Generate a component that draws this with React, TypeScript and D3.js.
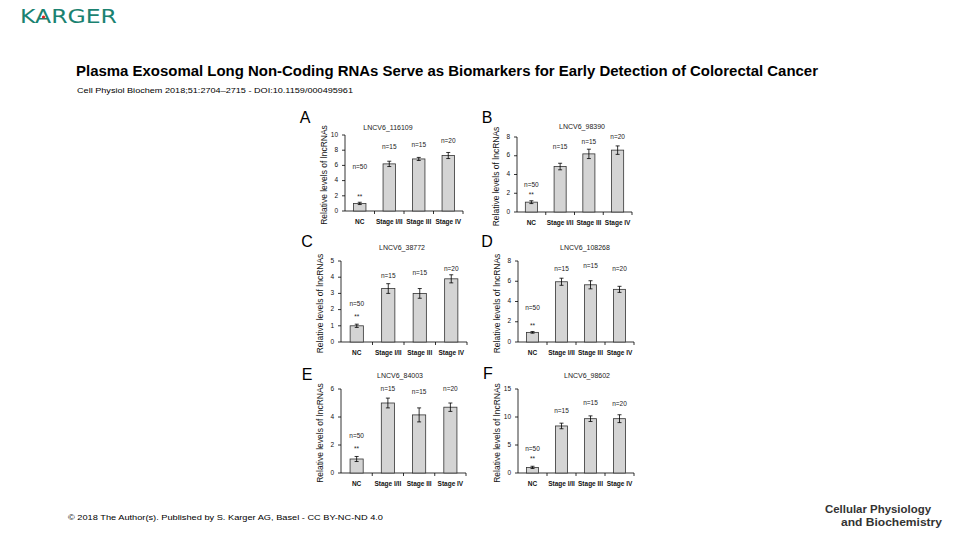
import React from "react";
import * as d3 from "d3";

const categories = ["NC", "Stage I/II", "Stage III", "Stage IV"];
const panelLetters = ["A", "B", "C", "D", "E", "F"];
const panelTitles = ["LNCV6_116109", "LNCV6_98390", "LNCV6_38772", "LNCV6_108268", "LNCV6_84003", "LNCV6_98602"];
const meanValues = [
  [1.0, 6.2, 6.85, 7.3],
  [1.05, 4.85, 6.2, 6.6],
  [1.0, 3.3, 3.0, 3.9],
  [0.95, 5.95, 5.65, 5.2],
  [1.0, 5.0, 4.15, 4.7],
  [1.0, 8.4, 9.7, 9.7],
];
const errorValues = [
  [0.15, 0.35, 0.2, 0.4],
  [0.15, 0.35, 0.5, 0.45],
  [0.1, 0.3, 0.3, 0.25],
  [0.08, 0.35, 0.4, 0.3],
  [0.18, 0.35, 0.5, 0.3],
  [0.2, 0.5, 0.5, 0.7],
];
const sampleLabels = ["n=50", "n=15", "n=15", "n=20"];
const sampleLabelLevels = [
  [5.8, 8.4, 8.7, 9.2],
  [2.9, 6.9, 7.4, 8.0],
  [2.35, 4.07, 4.26, 4.5],
  [3.36, 7.2, 7.5, 7.2],
  [2.64, 6.0, 5.8, 6.0],
  [4.3, 11.1, 12.5, 12.3],
];
const starLevels = [1.8, 1.8, 1.55, 1.6, 1.7, 2.5];
const yMaxValues = [10, 8, 5, 8, 6, 15];
const yTickValues = [
  [0, 2, 4, 6, 8, 10],
  [0, 2, 4, 6, 8],
  [0, 1, 2, 3, 4, 5],
  [0, 2, 4, 6, 8],
  [0, 2, 4, 6],
  [0, 5, 10, 15],
];

// layout of each panel: left, right, top, bottom of plot area
const layouts = [
  { x0: 345, x1: 463, top: 135, bottom: 211, title: [388, 128], letter: [305, 119] },
  { x0: 517, x1: 632, top: 137, bottom: 212, title: [582, 127], letter: [487, 119] },
  { x0: 341, x1: 467, top: 261, bottom: 342, title: [402, 248], letter: [307, 243] },
  { x0: 518, x1: 634, top: 261, bottom: 342, title: [585, 248], letter: [487, 243] },
  { x0: 341, x1: 466, top: 389, bottom: 473, title: [400, 376], letter: [307, 376] },
  { x0: 518, x1: 634, top: 389, bottom: 473, title: [587, 376], letter: [488, 375] },
];

const font = "'Liberation Sans', Arial, sans-serif";

function Panel({ i }: { i: number }) {
  const L = layouts[i];
  const x = d3.scaleBand<string>().domain(categories).range([L.x0, L.x1]).paddingInner(0.58).paddingOuter(0.29);
  const y = d3.scaleLinear().domain([0, yMaxValues[i]]).range([L.bottom, L.top]);
  const bw = x.bandwidth();
  const band = (L.x1 - L.x0) / categories.length;
  return (
    <g fontFamily={font}>
      <text x={L.letter[0]} y={L.letter[1]} fontSize={16} textAnchor="middle" dominantBaseline="middle" fill="#000">{panelLetters[i]}</text>
      <text x={L.title[0]} y={L.title[1]} fontSize={7} textAnchor="middle" dominantBaseline="middle" fill="#222">{panelTitles[i]}</text>
      <text transform={`translate(${L.x0 - 20},${(L.top + L.bottom) / 2 + 2}) rotate(-90)`} fontSize={8.5} textAnchor="middle" dominantBaseline="middle" fill="#111">Relative levels of lncRNAs</text>
      {/* y axis */}
      <line x1={L.x0} x2={L.x0} y1={L.top} y2={L.bottom} stroke="#000" strokeWidth={0.8} />
      {yTickValues[i].map((t) => (
        <g key={t}>
          <line x1={L.x0 - 3} x2={L.x0} y1={y(t)} y2={y(t)} stroke="#000" strokeWidth={0.8} />
          <text x={L.x0 - 7} y={y(t)} fontSize={6.5} textAnchor="end" dominantBaseline="middle" fill="#111">{t}</text>
        </g>
      ))}
      {/* x axis */}
      <line x1={L.x0} x2={L.x1} y1={L.bottom} y2={L.bottom} stroke="#000" strokeWidth={0.8} />
      {categories.map((c, k) => (
        <line key={c} x1={L.x0 + band * (k + 1)} x2={L.x0 + band * (k + 1)} y1={L.bottom} y2={L.bottom + 3} stroke="#000" strokeWidth={0.8} />
      ))}
      {categories.map((c, k) => {
        const cx = (x(c) as number) + bw / 2;
        const v = meanValues[i][k];
        const e = errorValues[i][k];
        return (
          <g key={c}>
            <rect x={x(c)} y={y(v)} width={bw} height={L.bottom - y(v)} fill="#d4d4d4" stroke="#333" strokeWidth={0.8} />
            <line x1={cx} x2={cx} y1={y(v + e)} y2={y(v - e)} stroke="#000" strokeWidth={0.8} />
            <line x1={cx - 2} x2={cx + 2} y1={y(v + e)} y2={y(v + e)} stroke="#000" strokeWidth={0.8} />
            <line x1={cx - 2} x2={cx + 2} y1={y(v - e)} y2={y(v - e)} stroke="#000" strokeWidth={0.8} />
            <text x={cx} y={y(sampleLabelLevels[i][k])} fontSize={6.5} textAnchor="middle" dominantBaseline="middle" fill="#222">{sampleLabels[k]}</text>
            <text x={cx} y={L.bottom + 11} fontSize={6.5} fontWeight="bold" textAnchor="middle" dominantBaseline="middle" fill="#111">{c}</text>
          </g>
        );
      })}
      <text x={(x(categories[0]) as number) + bw / 2} y={y(starLevels[i])} fontSize={6.5} textAnchor="middle" dominantBaseline="middle" fill="#222">**</text>
    </g>
  );
}

export default function App() {
  return (
    <svg width={960} height={540} style={{ position: "absolute", left: 0, top: 0, background: "#fff" }}>
      <rect width={960} height={540} fill="#fff" />
      <text x={20} y={23} fontFamily="'DejaVu Sans', sans-serif" fontSize={19} textLength={97} lengthAdjust="spacingAndGlyphs" fill="#1b8271">KARGER</text>
      <circle cx={43.5} cy={17} r={1.6} fill="#d22" />
      <text x={76} y={76} fontFamily={font} fontSize={14.5} fontWeight="bold" textLength={742} lengthAdjust="spacingAndGlyphs" fill="#000">Plasma Exosomal Long Non-Coding RNAs Serve as Biomarkers for Early Detection of Colorectal Cancer</text>
      <text x={77} y={93} fontFamily={font} fontSize={8} textLength={276} lengthAdjust="spacingAndGlyphs" fill="#000">Cell Physiol Biochem 2018;51:2704–2715 - DOI:10.1159/000495961</text>
      {panelLetters.map((_, i) => <Panel key={i} i={i} />)}
      <text x={68} y={520} fontFamily={font} fontSize={8} textLength={315} lengthAdjust="spacingAndGlyphs" fill="#000">© 2018 The Author(s). Published by S. Karger AG, Basel - CC BY-NC-ND 4.0</text>
      <text x={825} y={513} fontFamily={font} fontSize={11.5} fontWeight="bold" textLength={106} lengthAdjust="spacingAndGlyphs" fill="#333">Cellular Physiology</text>
      <text x={841} y={526} fontFamily={font} fontSize={11.5} fontWeight="bold" textLength={101} lengthAdjust="spacingAndGlyphs" fill="#333">and Biochemistry</text>
    </svg>
  );
}
